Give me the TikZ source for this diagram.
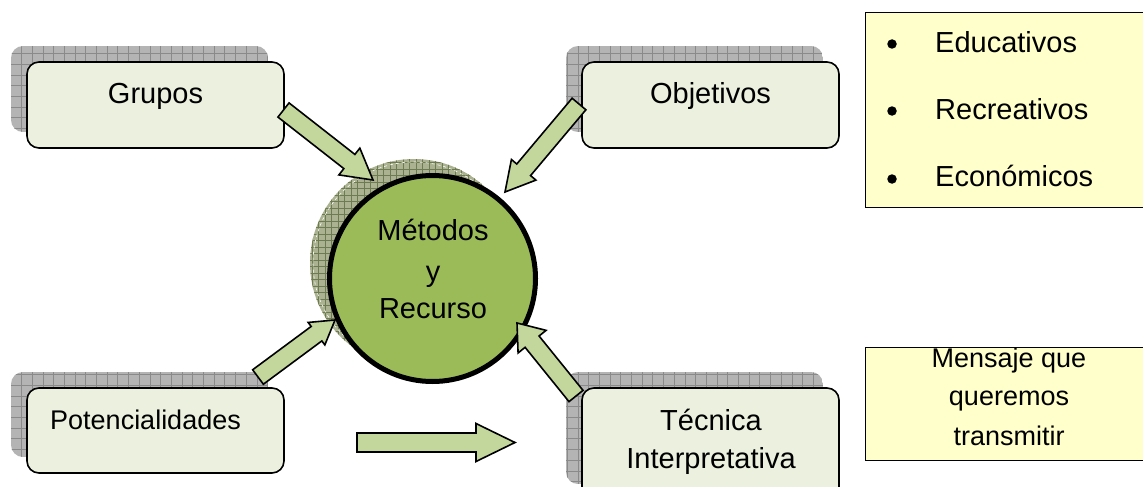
\documentclass[tikz,border=0pt]{standalone}
\usepackage{fontspec}
\setmainfont{Liberation Sans}
\usetikzlibrary{calc}
\definecolor{boxfill}{HTML}{EBF1DE}
\definecolor{circfill}{HTML}{9BBB59}
\definecolor{arrfill}{HTML}{C3D69B}
\definecolor{yelfill}{HTML}{FFFFCC}
\definecolor{shadgray}{HTML}{B4B4B4}
\definecolor{shadline}{HTML}{8A8A8A}
\definecolor{cshad}{HTML}{AAB292}
\definecolor{cshadline}{HTML}{6E7B50}
\tikzset{
  mainbox/.style={draw=black, line width=1.6pt, fill=boxfill, rounded corners=12pt, minimum width=257pt, inner sep=0pt},
  yelbox/.style={draw=black, line width=1.4pt, fill=yelfill},
  arrowshape/.style={draw=black, line width=1.6pt, fill=arrfill, line join=miter},
  big/.style={font=\fontsize{29}{35}\selectfont, inner sep=0pt},
  mid/.style={font=\fontsize{27}{33}\selectfont, inner sep=0pt},
  bul/.style={circle, fill=black, inner sep=0pt, minimum size=9.5pt},
}
\newcommand\blockarr[5]{%
  \coordinate (ba-h) at ($(#2)!#5!(#1)$);
  \draw[arrowshape] ($(#1)!#3!90:(#2)$) -- ($(ba-h)!#3!90:(#2)$) -- ($(ba-h)!#4!90:(#2)$) -- (#2) -- ($(ba-h)!#4!-90:(#2)$) -- ($(ba-h)!#3!-90:(#2)$) -- ($(#1)!#3!-90:(#2)$) -- cycle;}
\newcommand\gridshadow[2]{%
  \begin{scope}
    \clip[rounded corners=12pt] #1 rectangle #2;
    \fill[shadgray] #1 rectangle #2;
    \draw[shadline, line width=0.6pt, step=10.7pt] #1 grid #2;
  \end{scope}}
\begin{document}
\begin{tikzpicture}[x=1pt, y=-1pt]
\clip (0,0) rectangle (1143,487);
\fill[white] (0,0) rectangle (1143,487);

% box shadows
\gridshadow{(11,46)}{(268,132)}
\gridshadow{(566,46)}{(823,132)}
\gridshadow{(11,372)}{(268,457)}
\gridshadow{(566,372)}{(823,484)}

% boxes
\node[mainbox, minimum height=86pt] (grupos) at (155.5,105) {};
\node[mainbox, minimum height=86pt] (objetivos) at (710.5,105) {};
\node[mainbox, minimum height=85pt] (potencial) at (155.5,430.5) {};

\node[big, anchor=base] (tgrupos) at (155.5,103) {Grupos};
\node[big, anchor=base] (tobjetivos) at (710.5,103) {Objetivos};
\node[mid, anchor=base west] (tpotencial) at (50,429) {Potencialidades};

% circle shadow
\begin{scope}
  \clip (414,263) circle[radius=104pt];
  \fill[cshad] (414,263) circle[radius=104pt];
  \draw[cshadline, line width=0.4pt, step=6.5pt] (300,150) grid (530,380);
\end{scope}
\draw[white, dashed, line width=0.6pt] (414,263) circle[radius=101pt];

% main circle
\node[circle, draw=black, line width=5pt, fill=circfill, minimum size=206pt, inner sep=0pt] (metodos) at (432.5,278.5) {};
\node[big, anchor=base] (tm1) at (433,240) {Métodos};
\node[big, anchor=base] (tm2) at (433,281) {y};
\node[big, anchor=base] (tm3) at (433,318) {Recurso};

% arrows
\coordinate (a1t) at (283.5,110); \coordinate (a1h) at (373,180);
\coordinate (a2t) at (579,104);   \coordinate (a2h) at (505,192);
\coordinate (a3t) at (258,377);   \coordinate (a3h) at (335,320);
\coordinate (a4t) at (576,396);   \coordinate (a4h) at (517,323);
\coordinate (a5t) at (357,442.5); \coordinate (a5h) at (515,442.5);
\blockarr{a1t}{a1h}{9pt}{17pt}{30pt}
\blockarr{a2t}{a2h}{9pt}{16pt}{29pt}
\blockarr{a3t}{a3h}{9pt}{14pt}{23pt}
\blockarr{a4t}{a4h}{9pt}{18pt}{24pt}
\blockarr{a5t}{a5h}{9.5pt}{19pt}{39pt}

% tecnica box (drawn over arrow tail)
\node[mainbox, minimum height=112pt] (tecnica) at (710.5,444) {};
\node[big, anchor=base] (tt1) at (711,430) {Técnica};
\node[big, anchor=base] (tt2) at (711,468) {Interpretativa};

% yellow boxes
\node[yelbox, minimum width=290pt, minimum height=195pt, anchor=north west] (lista) at (865,12) {};
\node[bul] (b1) at (892,44) {};
\node[bul] (b2) at (892,111) {};
\node[bul] (b3) at (892,179) {};
\node[big, anchor=base west] (l1) at (935,53) {Educativos};
\node[big, anchor=base west] (l2) at (935,119) {Recreativos};
\node[big, anchor=base west] (l3) at (935,186) {Económicos};

\node[yelbox, minimum width=290pt, minimum height=113pt, anchor=north west] (mensaje) at (865,347) {};
\node[mid, anchor=base] (m1) at (1009,367) {Mensaje que};
\node[mid, anchor=base] (m2) at (1009,405) {queremos};
\node[mid, anchor=base] (m3) at (1009,445) {transmitir};
\end{tikzpicture}
\end{document}
